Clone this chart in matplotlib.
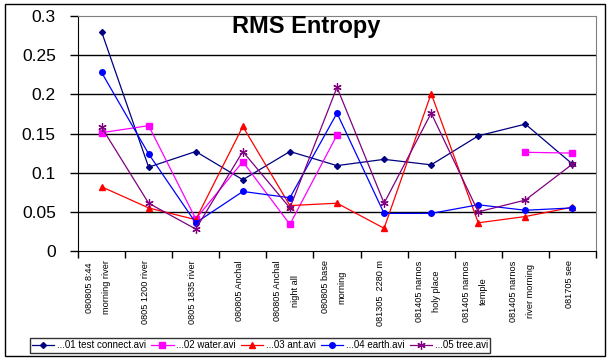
import matplotlib
matplotlib.use("Agg")
import matplotlib.pyplot as plt
from matplotlib.patches import Rectangle
import numpy as np

plt.rcParams["font.family"] = ["Liberation Sans", "DejaVu Sans"]

# data
categories = [
    "080805 8:44\nmorning river",
    "0805 1200 river",
    "0805 1835 river",
    "080805 Anchal",
    "080805 Anchal\nnight all",
    "080805 base\nmorning",
    "081305  2280 m",
    "081405 narnos\nholy place",
    "081405 narnos\ntemple",
    "081405 narnos\nriver morning",
    "081705 see",
]
test_connect = [0.280, 0.107, 0.127, 0.091, 0.127, 0.109, 0.117, 0.110, 0.147, 0.162, 0.111]
water = [0.151, 0.160, 0.041, 0.114, 0.034, 0.148, np.nan, np.nan, np.nan, 0.126, 0.125]
ant = [0.082, 0.055, 0.040, 0.159, 0.058, 0.061, 0.029, 0.201, 0.036, 0.044, 0.056]
earth = [0.228, 0.124, 0.036, 0.076, 0.068, 0.176, 0.048, 0.048, 0.059, 0.052, 0.055]
tree = [0.158, 0.061, 0.028, 0.127, 0.055, 0.209, 0.061, 0.176, 0.050, 0.065, 0.111]
series_names = ["...01 test connect.avi", "...02 water.avi", "...03 ant.avi",
                "...04 earth.avi", "...05 tree.avi"]
y_ticks = [0, 0.05, 0.1, 0.15, 0.2, 0.25, 0.3]

W, H = 612, 361
fig = plt.figure(figsize=(W / 100, H / 100), dpi=100)
ax = fig.add_axes([78 / W, 1 - 251 / H, (596 - 78) / W, (251 - 16) / H])

# outer chart frame
fig.add_artist(Rectangle((5 / W, 1 - 356 / H), 600 / W, 352 / H,
                         transform=fig.transFigure, fill=False,
                         edgecolor="black", lw=1.0))

x = np.arange(len(categories))
styles = [
    dict(color="#000080", marker="D", ms=3),
    dict(color="#ff00ff", marker="s", ms=4.5),
    dict(color="#ff0000", marker="^", ms=4.5),
    dict(color="#0000ff", marker="o", ms=4),
    dict(color="#800080", marker=(6, 2, 0), ms=6, mew=0.9),
]
for vals, name, st in zip([test_connect, water, ant, earth, tree], series_names, styles):
    ax.plot(x, vals, lw=0.9, label=name, **st)

ax.set_ylim(0, 0.3)
ax.set_xlim(-0.5, len(categories) - 0.5)
ax.set_yticks(y_ticks)
ax.set_yticklabels(["0", "0.05", "0.1", "0.15", "0.2", "0.25", "0.3"], fontsize=12.5)
for yv in y_ticks[1:-1]:
    ax.axhline(yv, color="black", lw=1.0, zorder=0)
ax.tick_params(axis="y", direction="out", length=6, width=1, pad=10)

ax.set_xticks(np.arange(len(categories) + 1) - 0.5)
ax.set_xticklabels([])
ax.tick_params(axis="x", direction="out", length=5, width=1)
for xi, lab in zip(x, categories):
    ax.text(xi - 0.07, -0.012, lab, rotation=90, ha="center", va="top",
            fontsize=6.6, linespacing=2.2, transform=ax.transData)

for s in ["top", "right"]:
    ax.spines[s].set_color("#808080")
for s in ["left", "bottom"]:
    ax.spines[s].set_color("black")

fig.text(306 / W, 1 - 27 / H, "RMS Entropy", ha="center", va="center",
         fontsize=17, fontweight="bold")

leg = fig.legend(loc="center", bbox_to_anchor=(260 / W, 1 - 345.5 / H), ncol=5,
                 fontsize=7, frameon=True, fancybox=False, edgecolor="black",
                 handlelength=2.3, handletextpad=0.3, columnspacing=0.5,
                 borderpad=0.25, borderaxespad=0)
leg.get_frame().set_linewidth(1.0)

fig.savefig("out.png", dpi=100)
